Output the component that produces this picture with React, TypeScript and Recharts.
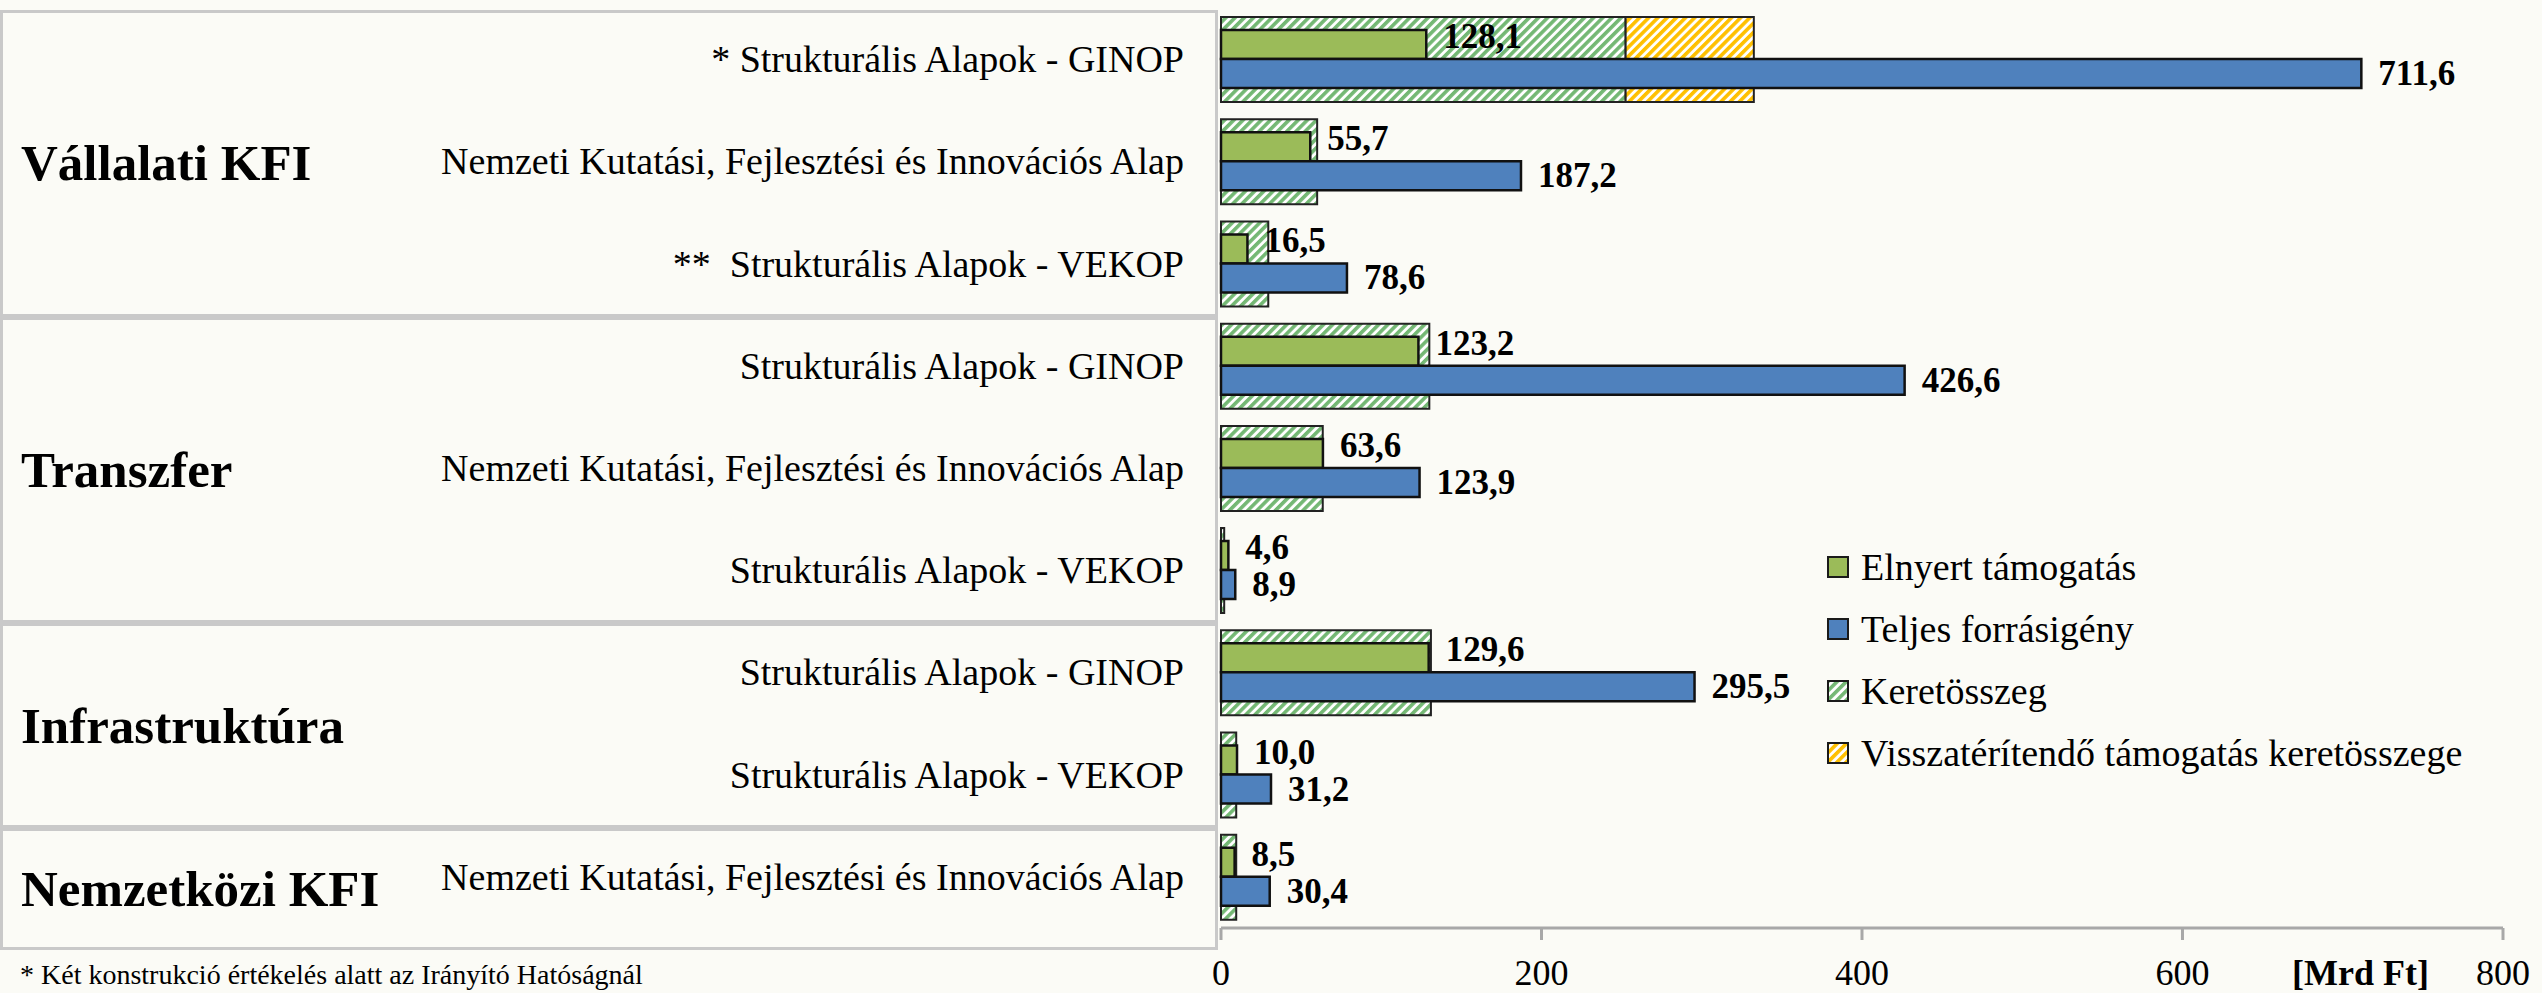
import React from "react";
import { BarChart, Bar, XAxis, YAxis, LabelList } from "recharts";

const W = 2542;
const H = 993;
const PLOT_LEFT = 1221;
const PLOT_RIGHT = 2503;
const PLOT_TOP = 8;
const PLOT_BOTTOM = 928;
const FONT = '"Liberation Serif", "DejaVu Serif", serif';
const BG = "#fbfbf6";

// one entry per bar row, top to bottom
const categories = [
  "* Strukturális Alapok - GINOP",
  "Nemzeti Kutatási, Fejlesztési és Innovációs Alap",
  "**\u00a0\u00a0Strukturális Alapok - VEKOP",
  "Strukturális Alapok - GINOP",
  "Nemzeti Kutatási, Fejlesztési és Innovációs Alap",
  "Strukturális Alapok - VEKOP",
  "Strukturális Alapok - GINOP",
  "Strukturális Alapok - VEKOP",
  "Nemzeti Kutatási, Fejlesztési és Innovációs Alap",
];
const elnyert = [128.1, 55.7, 16.5, 123.2, 63.6, 4.6, 129.6, 10.0, 8.5];
const teljes = [711.6, 187.2, 78.6, 426.6, 123.9, 8.9, 295.5, 31.2, 30.4];
const keret = [252.5, 60, 29.5, 130, 63.5, 2, 131, 9.5, 9.5];
const visszaterito = [80, 0, 0, 0, 0, 0, 0, 0, 0];

const groupNames = ["Vállalati KFI", "Transzfer", "Infrastruktúra", "Nemzetközi KFI"];
const groupSizes = [3, 3, 2, 1];

const xTicks = [0, 200, 400, 600, 800];

const data = categories.map((name, i) => ({
  id: `r${i}`,
  name,
  elnyert: elnyert[i],
  teljes: teljes[i],
  keret: keret[i],
  vissza: visszaterito[i],
}));

const fmt = (v: number) => v.toFixed(1).replace(".", ",");

function valueLabel(dy: number) {
  return (props: any) => {
    const { x, y, width, height, value } = props;
    if (value === null || value === undefined) return null;
    return (
      <text
        x={Number(x) + Number(width) + 17}
        y={Number(y) + Number(height) / 2 + dy}
        dominantBaseline="central"
        fontFamily={FONT}
        fontWeight={700}
        fontSize={35}
        fill="#000"
      >
        {fmt(Number(value))}
      </text>
    );
  };
}

// category names sit right-aligned a fixed gap left of the plot area
function CategoryTick(props: any) {
  const { y, payload } = props;
  const label = categories[payload.index] ?? payload.value;
  return (
    <text
      x={PLOT_LEFT - 37}
      y={y}
      textAnchor="end"
      dominantBaseline="central"
      fontFamily={FONT}
      fontSize={38}
      fill="#000"
    >
      {label}
    </text>
  );
}

function Hatch({ id, color }: { id: string; color: string }) {
  return (
    <pattern
      id={id}
      patternUnits="userSpaceOnUse"
      width={6.5}
      height={6.5}
      patternTransform="rotate(45)"
    >
      <rect width={6.5} height={6.5} fill="#ffffff" />
      <rect width={3.6} height={6.5} fill={color} />
    </pattern>
  );
}

const legendItems = [
  { name: "Elnyert támogatás", fill: "#9BBB59" },
  { name: "Teljes forrásigény", fill: "#4F81BD" },
  { name: "Keretösszeg", hatch: "#74b874" },
  { name: "Visszatérítendő támogatás keretösszege", hatch: "#FFC000" },
];

function ChartLegend() {
  return (
    <div style={{ position: "absolute", left: 1827, top: 536 }}>
      {legendItems.map((it, i) => (
        <div
          key={it.name}
          style={{ display: "flex", alignItems: "center", height: 62, gap: 12 }}
        >
          <svg width={22} height={22}>
            {it.hatch && (
              <defs>
                <Hatch id={`lg-h${i}`} color={it.hatch} />
              </defs>
            )}
            <rect
              x={1}
              y={1}
              width={20}
              height={20}
              fill={it.hatch ? `url(#lg-h${i})` : it.fill}
              stroke="#1a1a1a"
              strokeWidth={2}
            />
          </svg>
          <span style={{ fontFamily: FONT, fontSize: 38, color: "#000", whiteSpace: "nowrap" }}>
            {it.name}
          </span>
        </div>
      ))}
    </div>
  );
}

function GroupBoxes() {
  const band = (PLOT_BOTTOM - PLOT_TOP) / categories.length;
  let start = 0;
  return (
    <>
      {groupNames.map((g, i) => {
        const top = PLOT_TOP + 2 + start * band;
        const last = i === groupNames.length - 1;
        const height = groupSizes[i] * band + (last ? 20 : 0);
        start += groupSizes[i];
        return (
          <div
            key={g}
            style={{
              position: "absolute",
              left: 0,
              top,
              width: 1218,
              height,
              boxSizing: "border-box",
              border: "3px solid #c9c9c9",
              display: "flex",
              alignItems: "center",
              paddingLeft: 18,
              fontFamily: FONT,
              fontWeight: 700,
              fontSize: 51,
              color: "#000",
            }}
          >
            {g}
          </div>
        );
      })}
    </>
  );
}

export default function App() {
  return (
    <div
      style={{
        position: "absolute",
        left: 0,
        top: 0,
        width: W,
        height: H,
        background: BG,
        overflow: "hidden",
      }}
    >
      <GroupBoxes />
      <BarChart
        width={W}
        height={H}
        data={data}
        layout="vertical"
        barGap={0}
        margin={{ top: PLOT_TOP, right: W - PLOT_RIGHT, left: 0, bottom: 0 }}
        style={{ position: "absolute", left: 0, top: 0 }}
      >
        <defs>
          <Hatch id="hatchGreen" color="#74b874" />
          <Hatch id="hatchYellow" color="#FFC000" />
        </defs>
        <XAxis
          type="number"
          domain={[0, 800]}
          ticks={xTicks}
          interval={0}
          height={H - PLOT_BOTTOM}
          axisLine={{ stroke: "#a8a8a8", strokeWidth: 3 }}
          tickLine={{ stroke: "#a8a8a8", strokeWidth: 3 }}
          tickSize={12}
          tickMargin={19}
          tick={{ fill: "#000", fontSize: 36, fontFamily: FONT }}
        />
        <YAxis
          yAxisId="main"
          type="category"
          dataKey="id"
          width={PLOT_LEFT}
          interval={0}
          axisLine={false}
          tickLine={false}
          tickSize={0}
          tick={<CategoryTick />}
        />
        <YAxis yAxisId="frame" type="category" dataKey="id" hide />
        <Bar
          yAxisId="frame"
          dataKey="keret"
          stackId="frame"
          fill="url(#hatchGreen)"
          stroke="#222"
          strokeWidth={2}
          barSize={85}
          isAnimationActive={false}
        />
        <Bar
          yAxisId="frame"
          dataKey="vissza"
          stackId="frame"
          fill="url(#hatchYellow)"
          stroke="#222"
          strokeWidth={2}
          barSize={85}
          isAnimationActive={false}
        />
        <Bar
          yAxisId="main"
          dataKey="elnyert"
          fill="#9BBB59"
          stroke="#111"
          strokeWidth={2.5}
          barSize={29}
          isAnimationActive={false}
        >
          <LabelList dataKey="elnyert" content={valueLabel(-8)} />
        </Bar>
        <Bar
          yAxisId="main"
          dataKey="teljes"
          fill="#4F81BD"
          stroke="#111"
          strokeWidth={2.5}
          barSize={29}
          isAnimationActive={false}
        >
          <LabelList dataKey="teljes" content={valueLabel(0)} />
        </Bar>
      </BarChart>
      <ChartLegend />
      <div
        style={{
          position: "absolute",
          left: 2292,
          top: 952,
          fontFamily: FONT,
          fontWeight: 700,
          fontSize: 36,
          color: "#000",
          whiteSpace: "nowrap",
        }}
      >
        [Mrd Ft]
      </div>
      <div
        style={{
          position: "absolute",
          left: 20,
          top: 959,
          fontFamily: FONT,
          fontSize: 28,
          color: "#000",
          whiteSpace: "nowrap",
        }}
      >
        * Két konstrukció értékelés alatt az Irányító Hatóságnál
      </div>
    </div>
  );
}
